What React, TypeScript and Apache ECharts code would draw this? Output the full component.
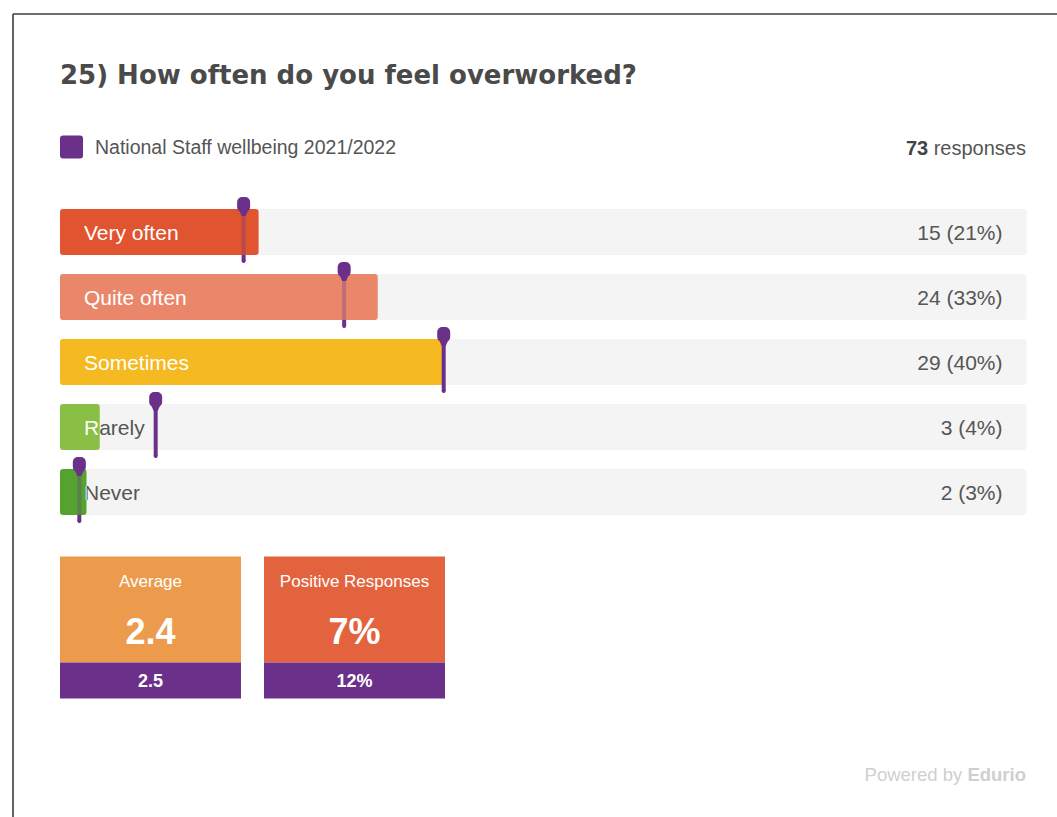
import React, { useEffect, useRef } from "react";
import * as echarts from "echarts";

// ---- data ----
const chartTitle = "25) How often do you feel overworked?";
const benchmarkName = "National Staff wellbeing 2021/2022";
const categories = ["Very often", "Quite often", "Sometimes", "Rarely", "Never"];
const counts = [15, 24, 29, 3, 2];
const benchmarkPct = [19.0, 29.4, 39.7, 9.9, 2.0];
const totalResponses = 73;
const statLabels = ["Average", "Positive Responses"];
const statValues = ["2.4", "7%"];
const statBenchmarks = ["2.5", "12%"];
const footerPrefix = "Powered by ";
const footerBrand = "Edurio";

// ---- styles ----
const barColors = ["#e0552f", "#ea876a", "#f5b922", "#8abf45", "#55a22f"];
const statColors = ["#ec9b4d", "#e4633f"];
const PURPLE = "#6b318a";
const TRACK = "#f4f4f4";
const TEXT = "#555555";
const FONT = "'Liberation Sans', Arial, Helvetica, sans-serif";
const TITLE_FONT = "'DejaVu Sans', 'Liberation Sans', Arial, sans-serif";

const pct = counts.map((c) => (c / totalResponses) * 100);
const valueLabels = counts.map((c, i) => `${c} (${Math.round(pct[i])}%)`);

const BAR_H = 46;

function renderLabels(params: any, api: any) {
  const v = api.value(0);
  const idx = api.value(1);
  const start = api.coord([0, idx]);
  const end = api.coord([v, idx]);
  const right = api.coord([100, idx])[0];
  const x0 = start[0];
  const yc = start[1];
  const top = yc - BAR_H / 2;
  const base = {
    text: categories[idx],
    x: x0 + 24,
    y: yc + 0.5,
    fontSize: 21,
    fontFamily: FONT,
    verticalAlign: "middle",
    align: "left",
  };
  return {
    type: "group",
    children: [
      {
        type: "group",
        clipPath: {
          type: "rect",
          shape: { x: end[0], y: top, width: right - end[0], height: BAR_H },
        },
        children: [{ type: "text", style: { ...base, fill: TEXT } }],
      },
      {
        type: "group",
        clipPath: {
          type: "rect",
          shape: { x: x0, y: top, width: end[0] - x0, height: BAR_H },
        },
        children: [{ type: "text", style: { ...base, fill: "#ffffff" } }],
      },
      {
        type: "text",
        style: {
          text: valueLabels[idx],
          x: right - 24,
          y: yc + 0.5,
          fontSize: 21,
          fontFamily: FONT,
          fill: TEXT,
          align: "right",
          verticalAlign: "middle",
        },
      },
    ],
  };
}

function renderMarkers(params: any, api: any) {
  const b = api.value(0);
  const idx = api.value(1);
  const a = api.value(2);
  const p = api.coord([b, idx]);
  const pa = api.coord([a, idx]);
  const cx = p[0];
  const yc = p[1];
  const top = yc - BAR_H / 2;
  const bottom = yc + BAR_H / 2;
  const headTop = top - 12;
  const lineEnd = bottom + 6;
  const covered = cx < pa[0] - 2;
  return {
    type: "group",
    children: [
      {
        type: "line",
        shape: { x1: cx, y1: top, x2: cx, y2: bottom },
        style: { stroke: PURPLE, lineWidth: 4, opacity: covered ? 0.32 : 1 },
      },
      {
        type: "line",
        shape: { x1: cx, y1: bottom, x2: cx, y2: lineEnd },
        style: { stroke: PURPLE, lineWidth: 4 },
      },
      {
        type: "circle",
        shape: { cx: cx, cy: lineEnd, r: 2 },
        style: { fill: PURPLE },
      },
      {
        type: "polygon",
        shape: {
          points: [
            [cx - 6, headTop + 10],
            [cx + 6, headTop + 10],
            [cx + 2, headTop + 19],
            [cx - 2, headTop + 19],
          ],
        },
        style: { fill: PURPLE },
      },
      {
        type: "rect",
        shape: { x: cx - 6.5, y: headTop, width: 13, height: 15, r: 5 },
        style: { fill: PURPLE },
      },
    ],
  };
}

function buildGraphics() {
  const g: any[] = [
    {
      type: "line",
      shape: { x1: 13, y1: 14, x2: 1057, y2: 14 },
      style: { stroke: "#3d3d3d", lineWidth: 1.6 },
    },
    {
      type: "line",
      shape: { x1: 13, y1: 14, x2: 13, y2: 817 },
      style: { stroke: "#3d3d3d", lineWidth: 1.6 },
    },
    {
      type: "text",
      style: {
        text: chartTitle,
        x: 60,
        y: 75,
        fontSize: 26,
        fontWeight: "bold",
        fontFamily: TITLE_FONT,
        fill: "#4a4a4a",
        verticalAlign: "middle",
      },
    },
    {
      type: "rect",
      shape: { x: 60, y: 135.5, width: 23, height: 23, r: 3 },
      style: { fill: PURPLE },
    },
    {
      type: "text",
      style: {
        text: benchmarkName,
        x: 95,
        y: 146.5,
        fontSize: 19.5,
        fontFamily: FONT,
        fill: TEXT,
        verticalAlign: "middle",
      },
    },
    {
      type: "text",
      style: {
        text: `{b|${totalResponses}}{n| responses}`,
        x: 1026,
        y: 148,
        align: "right",
        verticalAlign: "middle",
        rich: {
          b: { fontSize: 20, fontWeight: "bold", fontFamily: FONT, fill: "#444444" },
          n: { fontSize: 20, fontFamily: FONT, fill: TEXT },
        },
      },
    },
    {
      type: "text",
      style: {
        text: `{p|${footerPrefix}}{b|${footerBrand}}`,
        x: 1026,
        y: 774,
        align: "right",
        verticalAlign: "middle",
        rich: {
          p: { fontSize: 18.5, fontFamily: FONT, fill: "#cfcfcf" },
          b: { fontSize: 18.5, fontWeight: "bold", fontFamily: FONT, fill: "#cfcfcf" },
        },
      },
    },
  ];
  statLabels.forEach((label, k) => {
    const x = 60 + k * 204;
    const w = 181;
    const cx = x + w / 2;
    g.push(
      { type: "rect", shape: { x, y: 556.5, width: w, height: 106 }, style: { fill: statColors[k] } },
      { type: "rect", shape: { x, y: 662.5, width: w, height: 36 }, style: { fill: PURPLE } },
      {
        type: "text",
        style: { text: label, x: cx, y: 581.5, fontSize: 17, fontFamily: FONT, fill: "#ffffff", align: "center", verticalAlign: "middle" },
      },
      {
        type: "text",
        style: { text: statValues[k], x: cx, y: 631.5, fontSize: 36, fontWeight: "bold", fontFamily: FONT, fill: "#ffffff", align: "center", verticalAlign: "middle" },
      },
      {
        type: "text",
        style: { text: statBenchmarks[k], x: cx, y: 681, fontSize: 18, fontWeight: "bold", fontFamily: FONT, fill: "#ffffff", align: "center", verticalAlign: "middle" },
      }
    );
  });
  return g;
}

export default function App() {
  const ref = useRef<HTMLDivElement>(null);
  useEffect(() => {
    if (!ref.current) return;
    const chart = echarts.init(ref.current, undefined, { renderer: "svg" });
    chart.setOption({
      animation: false,
      backgroundColor: "#ffffff",
      grid: { left: 60, right: 30.5, top: 199.5, height: 325, containLabel: false },
      xAxis: { type: "value", min: 0, max: 100, show: false },
      yAxis: { type: "category", data: categories, inverse: true, show: false },
      series: [
        {
          type: "bar",
          name: "Responses",
          data: pct.map((v, i) => ({ value: v, itemStyle: { color: barColors[i] } })),
          barWidth: BAR_H,
          showBackground: true,
          backgroundStyle: { color: TRACK, borderRadius: 3 },
          itemStyle: { borderRadius: 3 },
          silent: true,
          z: 2,
        },
        {
          type: "custom",
          name: "Labels",
          data: pct.map((v, i) => [v, i]),
          encode: { x: 0, y: 1 },
          renderItem: renderLabels,
          silent: true,
          z: 3,
        },
        {
          type: "custom",
          name: benchmarkName,
          data: benchmarkPct.map((b, i) => [b, i, pct[i]]),
          encode: { x: 0, y: 1 },
          renderItem: renderMarkers,
          silent: true,
          z: 4,
        },
      ],
      graphic: buildGraphics(),
    });
    return () => chart.dispose();
  }, []);
  return (
    <div
      ref={ref}
      style={{ position: "absolute", left: 0, top: 0, width: 1057, height: 817, background: "#fff" }}
    />
  );
}
